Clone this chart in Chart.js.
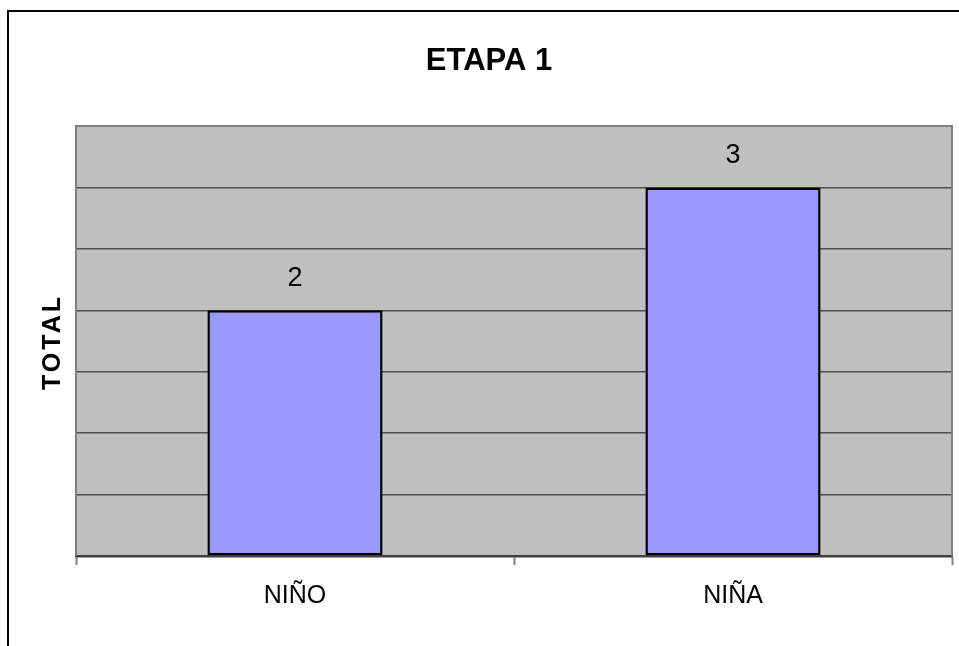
<!DOCTYPE html>
<html>
<head>
<meta charset="utf-8">
<script src="https://cdn.jsdelivr.net/npm/chart.js@4/dist/chart.umd.min.js"></script>
<style>
  body { margin: 0; background: #fff; }
  canvas { display: block; }
</style>
</head>
<body>
<canvas id="myChart" width="959" height="646"></canvas>
<script>
// chart data
const categories = ['NIÑO', 'NIÑA'];
const totals = [2, 3];
const chartTitle = 'ETAPA 1';
const yTitle = 'TOTAL';
const yMin = 0;
const yMax = 3.5;
const yStep = 0.5;

// draws the frame, gray plot background, title, y title and bar values
const decorPlugin = {
  id: 'decor',
  beforeDraw(chart) {
    const ctx = chart.ctx;
    const a = chart.chartArea;
    ctx.save();
    ctx.fillStyle = '#ffffff';
    ctx.fillRect(0, 0, chart.width, chart.height);
    // outer frame (runs off the right/bottom edge)
    ctx.fillStyle = '#000000';
    ctx.fillRect(7, 10, chart.width - 7, 2);
    ctx.fillRect(7, 10, 2, chart.height - 10);
    // plot background
    ctx.fillStyle = '#c0c0c0';
    ctx.fillRect(a.left, a.top, a.right - a.left, a.bottom - a.top);
    ctx.restore();
  },
  beforeDatasetsDraw(chart) {
    const ctx = chart.ctx;
    const a = chart.chartArea;
    ctx.save();
    ctx.strokeStyle = '#808080';
    ctx.lineWidth = 2;
    ctx.beginPath();
    ctx.moveTo(a.left, a.bottom);
    ctx.lineTo(a.left, a.top);
    ctx.lineTo(a.right, a.top);
    ctx.lineTo(a.right, a.bottom);
    ctx.stroke();
    ctx.restore();
  },
  afterDraw(chart) {
    const ctx = chart.ctx;
    ctx.save();
    ctx.fillStyle = '#000000';
    // title
    ctx.font = 'bold 31px "Liberation Sans", Arial, sans-serif';
    ctx.textAlign = 'center';
    ctx.textBaseline = 'alphabetic';
    ctx.fillText(chartTitle, 489, 70);
    // value labels above bars
    ctx.font = '27px "Liberation Sans", Arial, sans-serif';
    chart.getDatasetMeta(0).data.forEach((bar, i) => {
      ctx.fillText(String(totals[i]), bar.x, bar.y - 24);
    });
    // rotated y title
    ctx.translate(53, 342);
    ctx.rotate(-Math.PI / 2);
    ctx.font = 'bold 25px "Liberation Sans", Arial, sans-serif';
    ctx.letterSpacing = '3px';
    ctx.textBaseline = 'middle';
    ctx.fillText(yTitle, 0, 0);
    ctx.restore();
  }
};

const ctx = document.getElementById('myChart').getContext('2d');
const chart = new Chart(ctx, {
  type: 'bar',
  data: {
    labels: categories,
    datasets: [{
      data: totals,
      backgroundColor: '#9999ff',
      borderColor: '#000000',
      borderWidth: 2.5,
      borderSkipped: false,
      categoryPercentage: 1,
      barPercentage: 0.4
    }]
  },
  options: {
    responsive: false,
    animation: false,
    layout: { padding: { left: 76, top: 126, right: 7, bottom: 0 } },
    plugins: {
      legend: { display: false },
      title: { display: false },
      tooltip: { enabled: false }
    },
    scales: {
      x: {
        afterFit(scale) { scale.height = 90; },
        grid: {
          drawOnChartArea: false,
          drawTicks: true,
          tickLength: 9,
          tickColor: '#808080',
          tickWidth: 2
        },
        border: { color: '#404040', width: 2.5 },
        ticks: {
          color: '#000000',
          padding: 16,
          font: { family: '"Liberation Sans", Arial, sans-serif', size: 25 }
        }
      },
      y: {
        min: yMin,
        max: yMax,
        afterFit(scale) { scale.width = 0; },
        grid: { color: '#4d4d4d', lineWidth: 1.5, drawTicks: false },
        border: { display: false },
        ticks: { display: false, stepSize: yStep }
      }
    }
  },
  plugins: [decorPlugin]
});
</script>
</body>
</html>
